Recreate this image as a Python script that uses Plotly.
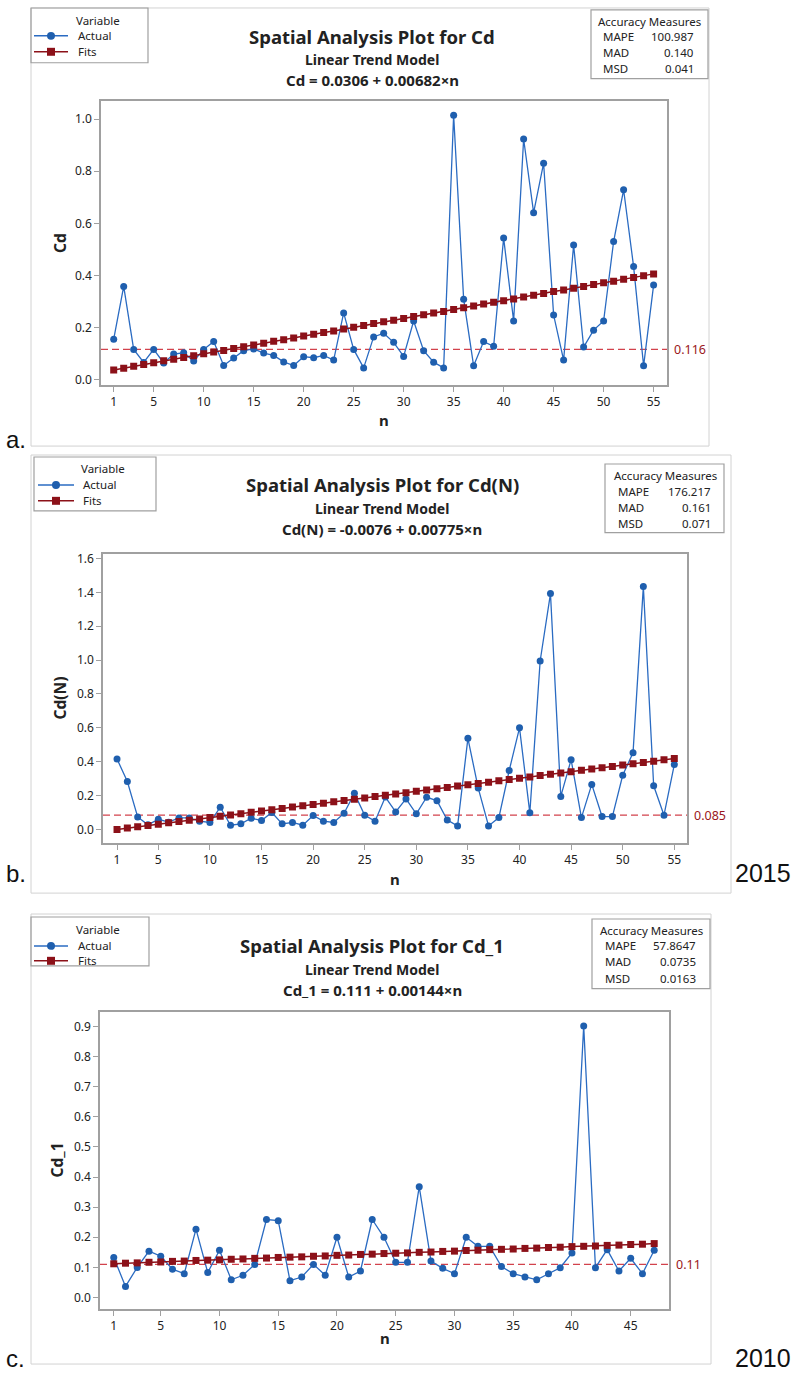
import plotly.graph_objects as go

W, H = 794, 1376

# ---- data -------------------------------------------------------------
n_55 = list(range(1, 56))
n_47 = list(range(1, 48))

cd_actual = [0.155, 0.358, 0.116, 0.066, 0.116, 0.064, 0.098, 0.103, 0.071, 0.116,
             0.146, 0.054, 0.083, 0.111, 0.118, 0.102, 0.093, 0.068, 0.054, 0.088,
             0.084, 0.093, 0.075, 0.256, 0.116, 0.045, 0.164, 0.178, 0.143, 0.089,
             0.225, 0.111, 0.067, 0.045, 1.015, 0.309, 0.053, 0.146, 0.128, 0.544,
             0.225, 0.924, 0.641, 0.831, 0.248, 0.075, 0.517, 0.125, 0.190, 0.225,
             0.530, 0.729, 0.434, 0.053, 0.363]
cd_fits = [0.037, 0.044, 0.051, 0.058, 0.065, 0.072, 0.078, 0.085, 0.092, 0.099,
           0.106, 0.112, 0.119, 0.126, 0.133, 0.140, 0.147, 0.153, 0.160, 0.167,
           0.174, 0.181, 0.187, 0.194, 0.201, 0.208, 0.215, 0.222, 0.228, 0.235,
           0.242, 0.249, 0.256, 0.262, 0.269, 0.276, 0.283, 0.290, 0.297, 0.303,
           0.310, 0.317, 0.324, 0.331, 0.338, 0.344, 0.351, 0.358, 0.365, 0.372,
           0.378, 0.385, 0.392, 0.399, 0.406]
cd_mean = 0.116

cdn_actual = [0.416, 0.283, 0.074, 0.027, 0.060, 0.043, 0.068, 0.068, 0.049, 0.041,
              0.131, 0.025, 0.033, 0.066, 0.053, 0.100, 0.033, 0.041, 0.025, 0.082,
              0.049, 0.041, 0.096, 0.213, 0.084, 0.049, 0.191, 0.103, 0.180, 0.092,
              0.190, 0.170, 0.056, 0.021, 0.538, 0.244, 0.021, 0.070, 0.348, 0.600,
              0.098, 0.995, 1.393, 0.195, 0.412, 0.070, 0.266, 0.076, 0.076, 0.320,
              0.453, 1.434, 0.258, 0.084, 0.383]
cdn_fits = [0.000, 0.008, 0.016, 0.023, 0.031, 0.039, 0.047, 0.054, 0.062, 0.070,
            0.078, 0.085, 0.093, 0.101, 0.109, 0.116, 0.124, 0.132, 0.140, 0.147,
            0.155, 0.163, 0.171, 0.178, 0.186, 0.194, 0.202, 0.209, 0.217, 0.225,
            0.233, 0.240, 0.248, 0.256, 0.264, 0.271, 0.279, 0.287, 0.295, 0.302,
            0.310, 0.318, 0.326, 0.333, 0.341, 0.349, 0.357, 0.364, 0.372, 0.380,
            0.388, 0.395, 0.403, 0.411, 0.419]
cdn_mean = 0.085

cd1_actual = [0.133, 0.037, 0.100, 0.154, 0.137, 0.094, 0.079, 0.227, 0.083, 0.157,
              0.059, 0.074, 0.110, 0.259, 0.255, 0.056, 0.068, 0.110, 0.074, 0.200,
              0.068, 0.088, 0.259, 0.200, 0.117, 0.117, 0.368, 0.121, 0.097, 0.079,
              0.200, 0.170, 0.170, 0.103, 0.079, 0.068, 0.059, 0.079, 0.099, 0.148,
              0.901, 0.099, 0.159, 0.088, 0.130, 0.079, 0.157]
cd1_fits = [0.112, 0.114, 0.115, 0.117, 0.118, 0.120, 0.121, 0.123, 0.124, 0.125,
            0.127, 0.128, 0.130, 0.131, 0.133, 0.134, 0.135, 0.137, 0.138, 0.140,
            0.141, 0.143, 0.144, 0.146, 0.147, 0.148, 0.150, 0.151, 0.153, 0.154,
            0.156, 0.157, 0.159, 0.160, 0.161, 0.163, 0.164, 0.166, 0.167, 0.169,
            0.170, 0.171, 0.173, 0.174, 0.176, 0.177, 0.179]
cd1_mean = 0.11

ticks_55 = [1, 5, 10, 15, 20, 25, 30, 35, 40, 45, 50, 55]
ticks_47 = [1, 5, 10, 15, 20, 25, 30, 35, 40, 45]

# ---- styling ----------------------------------------------------------
FONT = "Noto Sans"
BLUE = "#1f5fae"
BLUE_LINE = "#2a6bc2"
RED = "#8c1119"
MEAN_RED = "#d2424c"
LABEL_RED = "#9a1620"
AXIS_GRAY = "#a0a0a0"
FRAME_GRAY = "#d2d2d2"
TXT = "#222222"


def px(x):
    return x / W


def py(y):
    return 1 - y / H


panels = [
    dict(name="Cd", n=n_55, actual=cd_actual, fits=cd_fits, mean=cd_mean,
         mean_text="0.116", ticks=ticks_55,
         plot=(101, 97, 667, 383), xr=(-0.27, 56.34), yr=(-0.022, 1.0715), dy=0.2,
         frame=(31, 4, 709, 444),
         title="Spatial Analysis Plot for Cd", eq="Cd = 0.0306 + 0.00682×n",
         title_x=372, title_y=(33, 56, 76),
         legend_box=(31, 4, 148, 59), legend_rows=(17, 32, 48), legend_x=(34, 68, 76, 98),
         acc_box=(591, 6, 708, 75), acc_rows=(18, 33, 49, 65), acc_x=(601, 696, 649),
         acc=[("MAPE", "100.987"), ("MAD", "0.140"), ("MSD", "0.041")],
         ylab_x=60, xlab_y=418, xlab_x=384),
    dict(name="Cd(N)", n=n_55, actual=cdn_actual, fits=cdn_fits, mean=cdn_mean,
         mean_text="0.085", ticks=ticks_55,
         plot=(103, 552, 687, 843), xr=(-0.36, 56.23), yr=(-0.082, 1.629), dy=0.2,
         frame=(31, 453, 731, 893),
         title="Spatial Analysis Plot for Cd(N)", eq="Cd(N) = -0.0076 + 0.00775×n",
         title_x=382, title_y=(483, 507, 527),
         legend_box=(34, 455, 156, 509), legend_rows=(467, 483, 499), legend_x=(38, 74, 81, 103),
         acc_box=(605, 462, 724, 531), acc_rows=(474, 490, 506, 522), acc_x=(616, 713, 665),
         acc=[("MAPE", "176.217"), ("MAD", "0.161"), ("MSD", "0.071")],
         ylab_x=60, xlab_y=879, xlab_x=395),
    dict(name="Cd_1", n=n_47, actual=cd1_actual, fits=cd1_fits, mean=cd1_mean,
         mean_text="0.11", ticks=ticks_47,
         plot=(100, 1012, 669, 1311), xr=(-0.17, 48.26), yr=(-0.039, 0.949), dy=0.1,
         frame=(31, 914, 711, 1366),
         title="Spatial Analysis Plot for Cd_1", eq="Cd_1 = 0.111 + 0.00144×n",
         title_x=372, title_y=(946, 970, 990),
         legend_box=(31, 917, 149, 966), legend_rows=(930, 946, 961), legend_x=(34, 68, 76, 98),
         acc_box=(592, 919, 710, 989), acc_rows=(931, 946, 962, 979), acc_x=(603, 698, 651),
         acc=[("MAPE", "57.8647"), ("MAD", "0.0735"), ("MSD", "0.0163")],
         ylab_x=57, xlab_y=1340, xlab_x=385),
]

fig = go.Figure()
shapes = []
annotations = []


def text(x, y, s, size=11, anchor="center", bold=False, color=TXT, family=FONT, angle=0):
    annotations.append(dict(
        x=px(x), y=py(y), xref="paper", yref="paper", text=f"<b>{s}</b>" if bold else s,
        showarrow=False, xanchor=anchor, yanchor="middle", textangle=angle,
        font=dict(family=family, size=size, color=color)))


def rect(x0, y0, x1, y1, color, width=1):
    shapes.append(dict(type="rect", xref="paper", yref="paper",
                       x0=px(x0), x1=px(x1), y0=py(y1), y1=py(y0),
                       line=dict(color=color, width=width), fillcolor="rgba(0,0,0,0)",
                       layer="below"))


for i, p in enumerate(panels, start=1):
    xa = "x" if i == 1 else f"x{i}"
    ya = "y" if i == 1 else f"y{i}"
    x0, y0, x1, y1 = p["plot"]

    # outer frame of the panel
    rect(*p["frame"], FRAME_GRAY)

    fig.add_trace(go.Scatter(
        x=p["n"], y=p["actual"], mode="lines+markers", name="Actual",
        line=dict(color=BLUE_LINE, width=1.3),
        marker=dict(color=BLUE, size=7, symbol="circle"),
        xaxis=xa, yaxis=ya, showlegend=False))
    fig.add_trace(go.Scatter(
        x=p["n"], y=p["fits"], mode="lines+markers", name="Fits",
        line=dict(color=RED, width=1.5),
        marker=dict(color=RED, size=7, symbol="square"),
        xaxis=xa, yaxis=ya, showlegend=False))

    # horizontal reference line at the mean
    shapes.append(dict(type="line", xref=f"{xa} domain", yref=ya, x0=0, x1=1,
                       y0=p["mean"], y1=p["mean"],
                       line=dict(color=MEAN_RED, width=1.2, dash="7px,4px"), layer="below"))
    annotations.append(dict(x=px(x1 + 5), y=p["mean"], xref="paper", yref=ya,
                            text=p["mean_text"], showarrow=False, xanchor="left",
                            yanchor="middle", font=dict(family=FONT, size=12.5, color=LABEL_RED)))

    axis_common = dict(showline=True, mirror=True, linecolor=AXIS_GRAY, linewidth=1.5,
                       ticks="outside", ticklen=5, tickcolor=AXIS_GRAY, tickwidth=1,
                       showgrid=False, zeroline=False,
                       tickfont=dict(family=FONT, size=12, color=TXT))
    fig.layout[f"xaxis{'' if i == 1 else i}"] = dict(
        domain=[px(x0), px(x1)], range=list(p["xr"]), anchor=ya,
        tickvals=p["ticks"], **axis_common)
    fig.layout[f"yaxis{'' if i == 1 else i}"] = dict(
        domain=[py(y1), py(y0)], range=list(p["yr"]), anchor=xa,
        dtick=p["dy"], tick0=0, tickformat=".1f", **axis_common)

    # titles
    tx = p["title_x"]
    ty = p["title_y"]
    text(tx, ty[0], p["title"], size=18.5, bold=True)
    text(tx, ty[1], "Linear Trend Model", size=14, bold=True)
    text(tx, ty[2], p["eq"], size=15, bold=True)

    # axis titles
    text(p["ylab_x"], (y0 + y1) / 2, p["name"], size=15.5, bold=True, angle=-90)
    text(p["xlab_x"], p["xlab_y"], "n", size=15, bold=True)

    # legend box
    lb = p["legend_box"]
    rect(*lb, AXIS_GRAY, 1.2)
    r = p["legend_rows"]
    lx0, lx1, ltx, lvx = p["legend_x"]
    text(lvx, r[0], "Variable", size=11.5)
    text(ltx, r[1], "Actual", size=11.5, anchor="left")
    text(ltx, r[2], "Fits", size=11.5, anchor="left")
    mx = (lx0 + lx1) / 2
    shapes.append(dict(type="line", xref="paper", yref="paper", x0=px(lx0), x1=px(lx1),
                       y0=py(r[1]), y1=py(r[1]), line=dict(color=BLUE_LINE, width=1.5)))
    shapes.append(dict(type="circle", xref="paper", yref="paper", x0=px(mx - 4), x1=px(mx + 4),
                       y0=py(r[1] + 4), y1=py(r[1] - 4), fillcolor=BLUE,
                       line=dict(color=BLUE, width=0)))
    shapes.append(dict(type="line", xref="paper", yref="paper", x0=px(lx0), x1=px(lx1),
                       y0=py(r[2]), y1=py(r[2]), line=dict(color=RED, width=1.5)))
    shapes.append(dict(type="rect", xref="paper", yref="paper", x0=px(mx - 4), x1=px(mx + 4),
                       y0=py(r[2] + 4), y1=py(r[2] - 4), fillcolor=RED,
                       line=dict(color=RED, width=0)))

    # accuracy measures box
    rect(*p["acc_box"], AXIS_GRAY, 1.2)
    ar = p["acc_rows"]
    ax_l, ax_r, ax_c = p["acc_x"]
    text(ax_c, ar[0], "Accuracy Measures", size=11.5)
    for (lab, val), yy in zip(p["acc"], ar[1:]):
        text(ax_l, yy, lab, size=11.5, anchor="left")
        text(ax_r, yy, val, size=11.5, anchor="right")

# panel letters and years
text(4, 437, "a.", size=24, anchor="left", family="Liberation Sans", color="#111")
text(4, 873, "b.", size=24, anchor="left", family="Liberation Sans", color="#111")
text(4, 1360, "c.", size=24, anchor="left", family="Liberation Sans", color="#111")
text(733, 873, "2015", size=25, anchor="left", family="Liberation Sans", color="#111")
text(733, 1360, "2010", size=25, anchor="left", family="Liberation Sans", color="#111")

fig.update_layout(
    width=W, height=H, margin=dict(l=0, r=0, t=0, b=0),
    paper_bgcolor="white", plot_bgcolor="white",
    shapes=shapes, annotations=annotations, showlegend=False,
    font=dict(family=FONT, color=TXT),
)

fig.write_html("out.html")
